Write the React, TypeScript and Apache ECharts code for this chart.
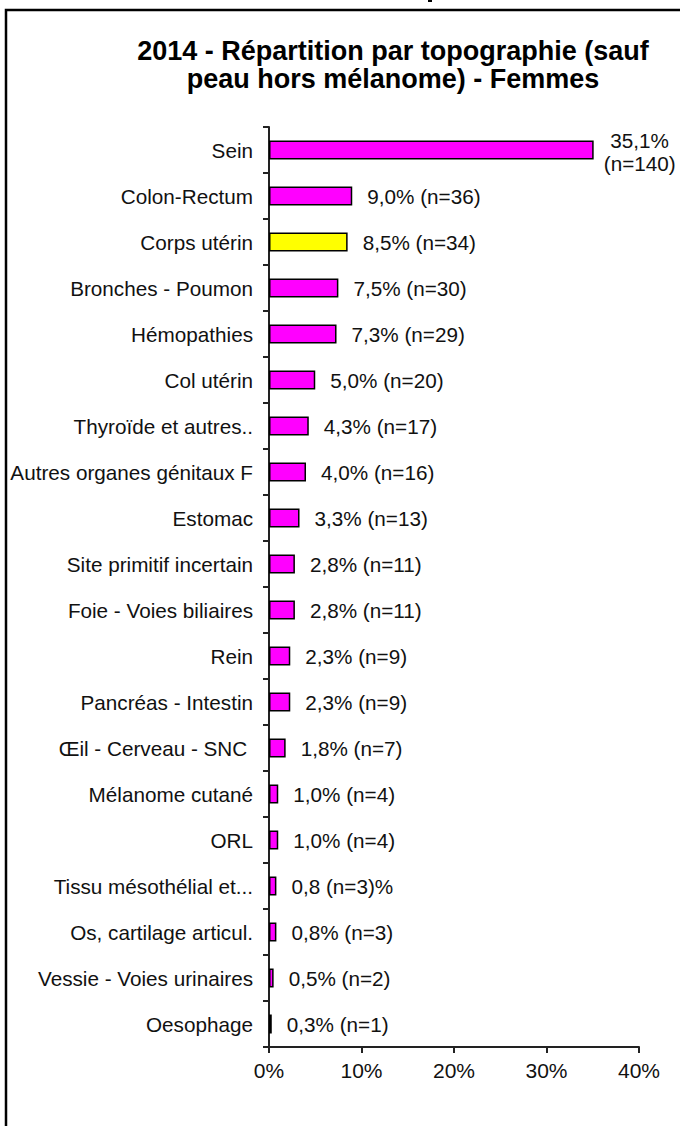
import React, { useEffect, useRef } from "react";
import * as echarts from "echarts";

const titleText = "2014 - Répartition par topographie (sauf\npeau hors mélanome) - Femmes";

const categories = [
  "Sein",
  "Colon-Rectum",
  "Corps utérin",
  "Bronches - Poumon",
  "Hémopathies",
  "Col utérin",
  "Thyroïde et autres..",
  "Autres organes génitaux F",
  "Estomac",
  "Site primitif incertain",
  "Foie - Voies biliaires",
  "Rein",
  "Pancréas - Intestin",
  "Œil - Cerveau - SNC ",
  "Mélanome cutané",
  "ORL",
  "Tissu mésothélial et...",
  "Os, cartilage articul.",
  "Vessie - Voies urinaires",
  "Oesophage",
];

const percents = [35.1, 9.0, 8.5, 7.5, 7.3, 5.0, 4.3, 4.0, 3.3, 2.8, 2.8, 2.3, 2.3, 1.8, 1.0, 1.0, 0.8, 0.8, 0.5, 0.3];

const valueLabels = [
  "35,1%\n(n=140)",
  "9,0% (n=36)",
  "8,5% (n=34)",
  "7,5% (n=30)",
  "7,3% (n=29)",
  "5,0% (n=20)",
  "4,3% (n=17)",
  "4,0% (n=16)",
  "3,3% (n=13)",
  "2,8% (n=11)",
  "2,8% (n=11)",
  "2,3% (n=9)",
  "2,3% (n=9)",
  "1,8% (n=7)",
  "1,0% (n=4)",
  "1,0% (n=4)",
  "0,8 (n=3)%",
  "0,8% (n=3)",
  "0,5% (n=2)",
  "0,3% (n=1)",
];

const highlighted = "Corps utérin";
const xTickValues = [0, 10, 20, 30, 40];

const FONT = "Arial, 'Liberation Sans', sans-serif";

export default function App() {
  const ref = useRef<HTMLDivElement>(null);

  useEffect(() => {
    document.body.style.margin = "0";
    if (!ref.current) return;
    const chart = echarts.init(ref.current, null, { renderer: "svg" });

    const data = percents.map((v, i) => {
      const item: any = {
        value: v,
        itemStyle: {
          color: categories[i] === highlighted ? "#FFFF00" : "#FF00FF",
        },
      };
      if (i === 0) {
        item.label = {
          align: "center",
          distance: 9,
          offset: [37, 2],
          lineHeight: 23,
        };
      }
      return item;
    });

    chart.setOption({
      animation: false,
      backgroundColor: "#ffffff",
      title: {
        text: titleText,
        left: 388,
        top: 32,
        textAlign: "center",
        textStyle: {
          fontFamily: FONT,
          fontWeight: "bold",
          fontSize: 27,
          lineHeight: 28,
          color: "#000000",
        },
      },
      grid: {
        left: 269,
        right: 41,
        top: 127,
        bottom: 79,
        containLabel: false,
      },
      xAxis: {
        type: "value",
        min: xTickValues[0],
        max: xTickValues[xTickValues.length - 1],
        interval: 10,
        splitLine: { show: false },
        axisLine: { show: true, lineStyle: { color: "#222", width: 2 } },
        axisTick: { show: true, length: 6, inside: false, lineStyle: { color: "#222", width: 2 } },
        axisLabel: {
          formatter: "{value}%",
          fontFamily: FONT,
          fontSize: 21,
          color: "#111",
          margin: 13,
        },
      },
      yAxis: {
        type: "category",
        inverse: true,
        data: categories,
        axisLine: { show: true, lineStyle: { color: "#222", width: 2 } },
        axisTick: { show: true, length: 6, lineStyle: { color: "#222", width: 2 } },
        axisLabel: {
          fontFamily: FONT,
          fontSize: 20.7,
          color: "#111",
          margin: 16,
        },
      },
      series: [
        {
          type: "bar",
          data,
          barWidth: 19,
          itemStyle: { borderColor: "#000", borderWidth: 1.5 },
          label: {
            show: true,
            position: "right",
            distance: 15,
            fontFamily: FONT,
            fontSize: 20.7,
            color: "#111",
            formatter: (p: any) => valueLabels[p.dataIndex],
          },
        },
      ],
      graphic: [
        {
          type: "rect",
          shape: { x: 6, y: 10, width: 720, height: 1200 },
          style: { fill: "none", stroke: "#000", lineWidth: 2.5 },
          silent: true,
        },
        {
          type: "rect",
          shape: { x: 428, y: 0, width: 4, height: 2 },
          style: { fill: "#000" },
          silent: true,
        },
      ],
    });

    return () => chart.dispose();
  }, []);

  return <div ref={ref} style={{ width: 680, height: 1126 }} />;
}
